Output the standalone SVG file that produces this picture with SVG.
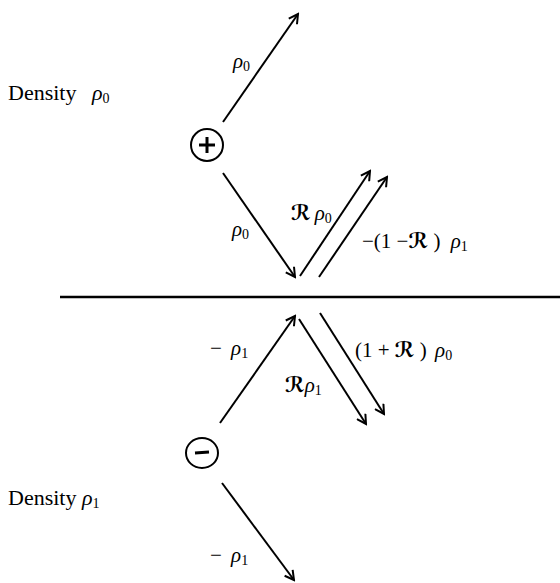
<svg xmlns="http://www.w3.org/2000/svg" width="560" height="583" viewBox="0 0 560 583">
<defs>
<marker id="ah" viewBox="0 0 12 12" refX="10" refY="6" markerWidth="12" markerHeight="12" markerUnits="userSpaceOnUse" orient="auto">
<path d="M1,1 L10,6 L1,11" fill="none" stroke="#000" stroke-width="2"/>
</marker>
<style>
.ln{stroke:#000;stroke-width:2;fill:none}
.ar{stroke:#000;stroke-width:2;fill:none;marker-end:url(#ah)}
.t{font-family:"Liberation Serif","Times New Roman",serif;font-size:21px;fill:#000}
.d{font-size:22px}
.r{font-style:italic}
.s{font-size:14px}
.R{font-family:"DejaVu Serif","DejaVu Sans",serif;font-weight:bold;font-style:italic;font-size:21px}
</style>
</defs>
<rect width="560" height="583" fill="#fff"/>
<line x1="60" y1="297" x2="560" y2="297" stroke="#000" stroke-width="2.5"/>
<g id="plus">
<circle cx="207" cy="145" r="16" class="ln"/>
<line x1="199" y1="145" x2="215" y2="145" stroke="#000" stroke-width="3"/>
<line x1="207" y1="137" x2="207" y2="153" stroke="#000" stroke-width="3"/>
</g>
<g id="minus">
<ellipse cx="202" cy="453" rx="16" ry="15" class="ln"/>
<line x1="195" y1="453" x2="209" y2="452" stroke="#000" stroke-width="3"/>
</g>
<g id="connectors">
<line x1="223" y1="122" x2="298" y2="14" class="ar"/>
<line x1="223" y1="173" x2="295" y2="277" class="ar"/>
<line x1="300" y1="276" x2="370" y2="171" class="ar"/>
<line x1="319" y1="277" x2="387" y2="177" class="ar"/>
<line x1="220" y1="423" x2="295" y2="316" class="ar"/>
<line x1="299" y1="319" x2="366" y2="424" class="ar"/>
<line x1="320" y1="313" x2="384" y2="414" class="ar"/>
<line x1="222" y1="483" x2="294" y2="580" class="ar"/>
</g>
<g id="labels">
<text class="t d" x="8" y="100">Density <tspan class="r" dx="10">ρ</tspan><tspan class="s" dy="3">0</tspan></text>
<text class="t d" x="8" y="505">Density <tspan class="r">ρ</tspan><tspan class="s" dy="3">1</tspan></text>
<text class="t" x="233" y="68"><tspan class="r">ρ</tspan><tspan class="s" dy="3">0</tspan></text>
<text class="t" x="232" y="236"><tspan class="r">ρ</tspan><tspan class="s" dy="3">0</tspan></text>
<text class="t" x="291" y="220"><tspan class="R">ℛ</tspan><tspan class="r" dx="4">ρ</tspan><tspan class="s" dy="3">0</tspan></text>
<text class="t" x="362" y="248">−(1 −<tspan class="R">ℛ</tspan> ) <tspan class="r" dx="5">ρ</tspan><tspan class="s" dy="3">1</tspan></text>
<text class="t" x="210" y="355">−  <tspan class="r" dx="4">ρ</tspan><tspan class="s" dy="3">1</tspan></text>
<text class="t" x="355" y="357">(1 + <tspan class="R">ℛ</tspan> ) <tspan class="r" dx="3">ρ</tspan><tspan class="s" dy="3">0</tspan></text>
<text class="t" x="285" y="392"><tspan class="R">ℛ</tspan><tspan class="r">ρ</tspan><tspan class="s" dy="3">1</tspan></text>
<text class="t" x="210" y="562">−  <tspan class="r" dx="4">ρ</tspan><tspan class="s" dy="3">1</tspan></text>
</g>
</svg>
